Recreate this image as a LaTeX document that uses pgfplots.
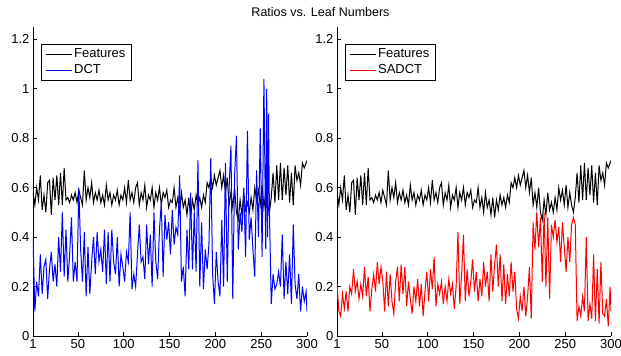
\documentclass[border=0pt]{standalone}
\usepackage{pgfplots}
\pgfplotsset{compat=1.18}
\usepackage{pgfplotstable}
\usepackage{fontspec}
\setmainfont{Liberation Sans}

\pgfplotstableread{
x y
1 0.58
3 0.53
5 0.60
7 0.55
9 0.65
11 0.51
13 0.57
15 0.50
17 0.62
19 0.63
21 0.49
23 0.64
25 0.55
27 0.65
29 0.53
31 0.66
33 0.53
35 0.68
37 0.55
39 0.56
41 0.54
43 0.57
45 0.55
47 0.58
49 0.54
51 0.59
53 0.56
55 0.53
57 0.67
59 0.55
61 0.60
63 0.56
65 0.62
67 0.54
69 0.58
71 0.55
73 0.59
75 0.54
77 0.57
79 0.53
81 0.61
83 0.55
85 0.58
87 0.53
89 0.57
91 0.55
93 0.59
95 0.53
97 0.57
99 0.55
101 0.60
103 0.54
105 0.63
107 0.55
109 0.58
111 0.54
113 0.60
115 0.62
117 0.53
119 0.58
121 0.55
123 0.61
125 0.52
127 0.57
129 0.55
131 0.60
133 0.52
135 0.58
137 0.55
139 0.60
141 0.53
143 0.58
145 0.56
147 0.59
149 0.52
151 0.55
153 0.54
155 0.60
157 0.52
159 0.56
161 0.50
163 0.58
165 0.52
167 0.55
169 0.49
171 0.56
173 0.48
175 0.55
177 0.51
179 0.57
181 0.53
183 0.56
185 0.52
187 0.57
189 0.54
191 0.62
193 0.60
195 0.64
197 0.60
199 0.65
201 0.61
203 0.64
205 0.67
207 0.60
209 0.65
211 0.58
213 0.64
215 0.53
217 0.58
219 0.52
221 0.60
223 0.50
225 0.47
227 0.55
229 0.49
231 0.58
233 0.51
235 0.54
237 0.50
239 0.56
241 0.51
243 0.60
245 0.55
247 0.59
249 0.53
251 0.61
253 0.52
255 0.58
257 0.53
259 0.50
261 0.56
263 0.66
265 0.54
267 0.69
269 0.55
271 0.70
273 0.55
275 0.68
277 0.57
279 0.69
281 0.54
283 0.66
285 0.53
287 0.69
289 0.63
291 0.66
293 0.61
295 0.70
297 0.68
299 0.70
300 0.71
}\feat

\pgfplotstableread{
x y
1 0.40
3 0.10
5 0.22
7 0.16
9 0.33
11 0.17
13 0.28
15 0.31
17 0.15
19 0.27
21 0.34
23 0.22
25 0.29
27 0.20
29 0.40
31 0.26
33 0.50
35 0.24
37 0.43
39 0.22
41 0.33
43 0.48
45 0.22
47 0.30
49 0.22
51 0.60
53 0.35
55 0.22
57 0.42
59 0.16
61 0.36
63 0.17
65 0.30
67 0.40
69 0.25
71 0.42
73 0.30
75 0.35
77 0.26
79 0.43
81 0.21
83 0.42
85 0.22
87 0.43
89 0.30
91 0.25
93 0.40
95 0.20
97 0.33
99 0.28
101 0.22
103 0.34
105 0.30
107 0.50
109 0.19
111 0.25
113 0.20
115 0.33
117 0.45
119 0.30
121 0.32
123 0.23
125 0.45
127 0.29
129 0.41
131 0.20
133 0.50
135 0.30
137 0.23
139 0.43
141 0.54
143 0.24
145 0.49
147 0.39
149 0.46
151 0.33
153 0.51
155 0.37
157 0.44
159 0.41
161 0.65
163 0.22
165 0.28
167 0.16
169 0.43
171 0.27
173 0.58
175 0.27
177 0.50
179 0.26
181 0.71
183 0.20
185 0.46
187 0.19
189 0.35
191 0.27
193 0.37
195 0.72
197 0.25
199 0.13
201 0.34
203 0.22
205 0.16
207 0.47
209 0.20
211 0.70
213 0.22
215 0.60
217 0.77
219 0.15
221 0.65
223 0.81
225 0.35
227 0.50
229 0.42
231 0.60
233 0.32
235 0.83
237 0.39
239 0.48
241 0.35
243 0.24
245 0.67
247 0.40
249 0.84
251 0.32
253 1.04
255 0.35
256 1.00
257 0.40
258 0.90
259 0.50
261 0.13
263 0.25
265 0.19
267 0.21
269 0.26
271 0.20
273 0.41
275 0.15
277 0.30
279 0.17
281 0.33
283 0.13
285 0.45
287 0.21
289 0.15
291 0.25
293 0.10
295 0.20
297 0.14
299 0.18
300 0.10
}\dct

\pgfplotstableread{
x y
1 0.21
3 0.10
5 0.08
7 0.17
9 0.11
11 0.18
13 0.10
15 0.20
17 0.17
19 0.27
21 0.18
23 0.22
25 0.15
27 0.21
29 0.16
31 0.28
33 0.16
35 0.24
37 0.10
39 0.19
41 0.25
43 0.18
45 0.30
47 0.21
49 0.28
51 0.22
53 0.10
55 0.26
57 0.12
59 0.25
61 0.14
63 0.09
65 0.22
67 0.28
69 0.14
71 0.29
73 0.17
75 0.28
77 0.12
79 0.22
81 0.15
83 0.09
85 0.20
87 0.14
89 0.23
91 0.12
93 0.21
95 0.08
97 0.18
99 0.26
101 0.14
103 0.27
105 0.19
107 0.32
109 0.12
111 0.21
113 0.17
115 0.22
117 0.13
119 0.20
121 0.14
123 0.23
125 0.17
127 0.21
129 0.11
131 0.20
133 0.42
135 0.13
137 0.25
139 0.41
141 0.14
143 0.27
145 0.16
147 0.22
149 0.31
151 0.18
153 0.26
155 0.14
157 0.23
159 0.16
161 0.30
163 0.20
165 0.26
167 0.14
169 0.33
171 0.18
173 0.29
175 0.37
177 0.20
179 0.33
181 0.14
183 0.29
185 0.13
187 0.25
189 0.16
191 0.30
193 0.18
195 0.26
197 0.11
199 0.07
201 0.16
203 0.10
205 0.20
207 0.08
209 0.16
211 0.28
213 0.07
215 0.46
217 0.35
219 0.50
221 0.36
223 0.48
225 0.22
227 0.50
229 0.20
231 0.48
233 0.15
235 0.45
237 0.40
239 0.47
241 0.38
243 0.44
245 0.30
247 0.46
249 0.36
251 0.26
253 0.40
255 0.30
257 0.45
259 0.48
261 0.45
263 0.06
265 0.12
267 0.08
269 0.16
271 0.10
273 0.40
275 0.06
277 0.13
279 0.07
281 0.33
283 0.06
285 0.27
287 0.05
289 0.30
291 0.09
293 0.08
295 0.15
297 0.04
299 0.20
300 0.10
}\sadct

\pgfplotsset{
  panel/.style={
    scale only axis,
    width=274pt, height=309pt,
    xmin=1, xmax=300, ymin=0, ymax=1.25,
    axis x line*=bottom, axis y line*=left,
    axis line style={-, line width=0.6pt},
    every outer x axis line/.append style={-},
    every outer y axis line/.append style={-},
    tick align=inside,
    major tick length=4pt,
    tick style={line width=0.6pt, black},
    xtick={1,50,100,150,200,250,300},
    ytick={0,0.2,0.4,0.6,0.8,1,1.2},
    /pgf/number format/assume math mode=true,
    tick label style={font=\fontsize{13}{15}\selectfont},
    legend cell align=left,
    legend image code/.code={\draw[#1] (0pt,0pt) -- (26pt,0pt);},
    legend style={at={(0.03,0.945)}, anchor=north west, draw,
      line width=0.8pt, fill=white, font=\fontsize{13}{15}\selectfont,
      inner xsep=3.5pt, inner ysep=2.5pt, row sep=1.5pt,
      nodes={inner sep=2pt}},
  }
}

\begin{document}
\begin{tikzpicture}
\path[use as bounding box] (-33pt,-20pt) rectangle (588pt,336pt);
\begin{axis}[panel, at={(0pt,0pt)}, anchor=south west]
\addplot[color=black, line width=1pt] table[x=x,y=y] {\feat};
\addlegendentry{Features}
\addplot[color=blue, line width=1pt] table[x=x,y=y] {\dct};
\addlegendentry{DCT}
\end{axis}
\begin{axis}[panel, at={(304pt,0pt)}, anchor=south west]
\addplot[color=black, line width=1pt] table[x=x,y=y] {\feat};
\addlegendentry{Features}
\addplot[color=red, line width=1pt] table[x=x,y=y] {\sadct};
\addlegendentry{SADCT}
\end{axis}
\node[font=\fontsize{12.5}{15}\selectfont] at (287.5pt,324pt) {Ratios vs. Leaf Numbers};
\end{tikzpicture}
\end{document}
